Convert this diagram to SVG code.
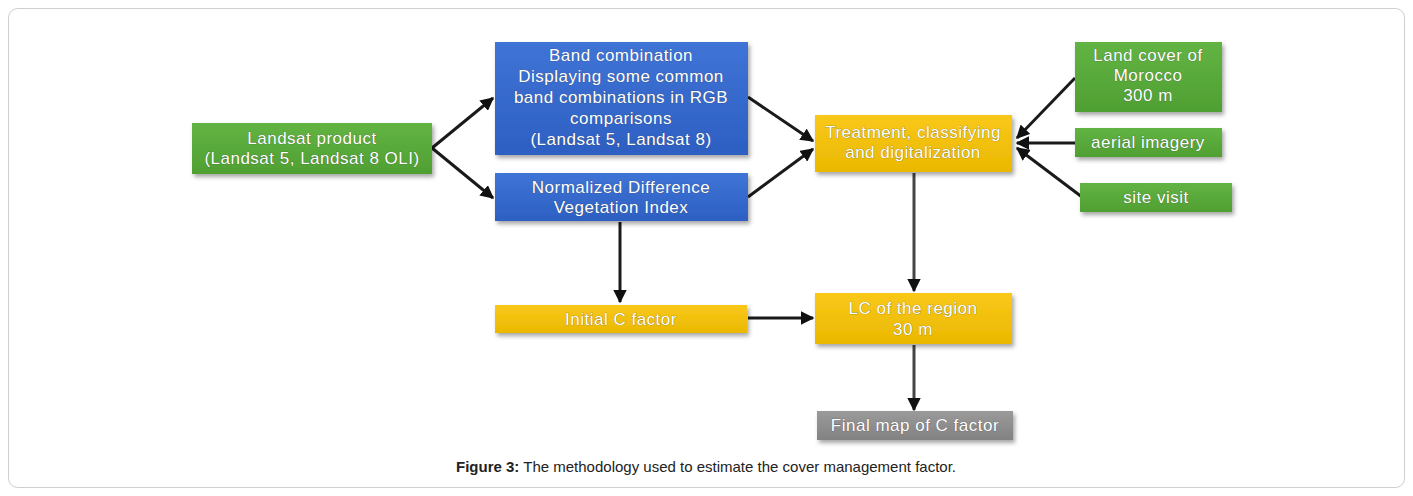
<svg xmlns="http://www.w3.org/2000/svg" width="1413" height="496" viewBox="0 0 1413 496">
<defs>
<linearGradient id="gGreen" x1="0" y1="0" x2="0" y2="1"><stop offset="0" stop-color="#62b443"/><stop offset="1" stop-color="#4f9f32"/></linearGradient>
<linearGradient id="gBlue" x1="0" y1="0" x2="0" y2="1"><stop offset="0" stop-color="#3f74d6"/><stop offset="1" stop-color="#2d5fc2"/></linearGradient>
<linearGradient id="gYellow" x1="0" y1="0" x2="0" y2="1"><stop offset="0" stop-color="#f9c81a"/><stop offset="1" stop-color="#eab800"/></linearGradient>
<linearGradient id="gGrey" x1="0" y1="0" x2="0" y2="1"><stop offset="0" stop-color="#9a9a9a"/><stop offset="1" stop-color="#828282"/></linearGradient>
<filter id="sh" x="-10%" y="-10%" width="130%" height="140%"><feDropShadow dx="2" dy="3" stdDeviation="2" flood-color="#000" flood-opacity="0.35"/></filter>
<marker id="ah" viewBox="0 0 10 10" refX="9" refY="5" markerWidth="4.5" markerHeight="4.5" orient="auto" markerUnits="strokeWidth"><path d="M0,0 L10,5 L0,10 z" fill="#111"/></marker>
</defs>
<style>
.t{font-family:"Liberation Sans",Arial,sans-serif;font-size:17px;letter-spacing:0.5px;fill:#fff;text-anchor:middle}
.ts{paint-order:stroke;stroke:#333;stroke-width:0.7px;stroke-opacity:0.5}
.c{stroke:#1a1a1a;stroke-width:3;fill:none;marker-end:url(#ah)}
.cap{font-family:"Liberation Sans",Arial,sans-serif;font-size:15px;fill:#222;text-anchor:middle}
</style>
<rect x="8.5" y="8.5" width="1396" height="479" rx="9" fill="#fff" stroke="#cfcfcf" stroke-width="1"/>

<g id="connectors">
<line class="c" x1="432" y1="148" x2="493" y2="98"/>
<line class="c" x1="432" y1="148" x2="493" y2="198"/>
<line class="c" x1="748" y1="97" x2="813" y2="141"/>
<line class="c" x1="748" y1="197" x2="813" y2="149"/>
<line class="c" x1="1075" y1="78" x2="1017" y2="138"/>
<line class="c" x1="1075" y1="143" x2="1017" y2="143"/>
<line class="c" x1="1082" y1="197" x2="1017" y2="148"/>
<line class="c" x1="620" y1="222" x2="620" y2="302"/>
<line class="c" x1="748" y1="318" x2="813" y2="318"/>
<line class="c" style="stroke:#444" x1="914" y1="173" x2="914" y2="291"/>
<line class="c" style="stroke:#444" x1="914" y1="345" x2="914" y2="410"/>
</g>

<g id="n-landsat">
<rect x="192" y="123" width="240" height="51" fill="url(#gGreen)" filter="url(#sh)"/>
<text class="t ts" x="312" y="144">Landsat product</text>
<text class="t ts" x="312" y="164">(Landsat 5, Landsat 8 OLI)</text>
</g>

<g id="n-band">
<rect x="495" y="42" width="253" height="113" fill="url(#gBlue)" filter="url(#sh)"/>
<text class="t ts" x="621" y="61">Band combination</text>
<text class="t ts" x="621" y="82">Displaying some common</text>
<text class="t ts" x="621" y="103">band combinations in RGB</text>
<text class="t ts" x="621" y="124">comparisons</text>
<text class="t ts" x="621" y="145">(Landsat 5, Landsat 8)</text>
</g>

<g id="n-ndvi">
<rect x="495" y="173" width="253" height="48" fill="url(#gBlue)" filter="url(#sh)"/>
<text class="t ts" x="621" y="193">Normalized Difference</text>
<text class="t ts" x="621" y="213">Vegetation Index</text>
</g>

<g id="n-treat">
<rect x="815" y="115" width="197" height="57" fill="url(#gYellow)" filter="url(#sh)"/>
<text class="t ts" x="913" y="138">Treatment, classifying</text>
<text class="t ts" x="913" y="158">and digitalization</text>
</g>

<g id="n-landcover">
<rect x="1075" y="42" width="147" height="70" fill="url(#gGreen)" filter="url(#sh)"/>
<text class="t ts" x="1148" y="61">Land cover of</text>
<text class="t ts" x="1148" y="81">Morocco</text>
<text class="t ts" x="1148" y="101">300 m</text>
</g>

<g id="n-aerial">
<rect x="1075" y="128" width="147" height="29" fill="url(#gGreen)" filter="url(#sh)"/>
<text class="t ts" x="1148" y="148">aerial imagery</text>
</g>

<g id="n-site">
<rect x="1080" y="183" width="152" height="29" fill="url(#gGreen)" filter="url(#sh)"/>
<text class="t ts" x="1156" y="203">site visit</text>
</g>

<g id="n-initial">
<rect x="495" y="305" width="252" height="28" fill="url(#gYellow)" filter="url(#sh)"/>
<text class="t ts" x="621" y="325">Initial C factor</text>
</g>

<g id="n-lc">
<rect x="815" y="293" width="197" height="51" fill="url(#gYellow)" filter="url(#sh)"/>
<text class="t ts" x="913" y="314">LC of the region</text>
<text class="t ts" x="913" y="335">30 m</text>
</g>

<g id="n-final">
<rect x="817" y="411" width="196" height="29" fill="url(#gGrey)" filter="url(#sh)"/>
<text class="t ts" x="915" y="431">Final map of C factor</text>
</g>

<text class="cap" x="706" y="472"><tspan font-weight="bold">Figure 3:</tspan> The methodology used to estimate the cover management factor.</text>
</svg>
